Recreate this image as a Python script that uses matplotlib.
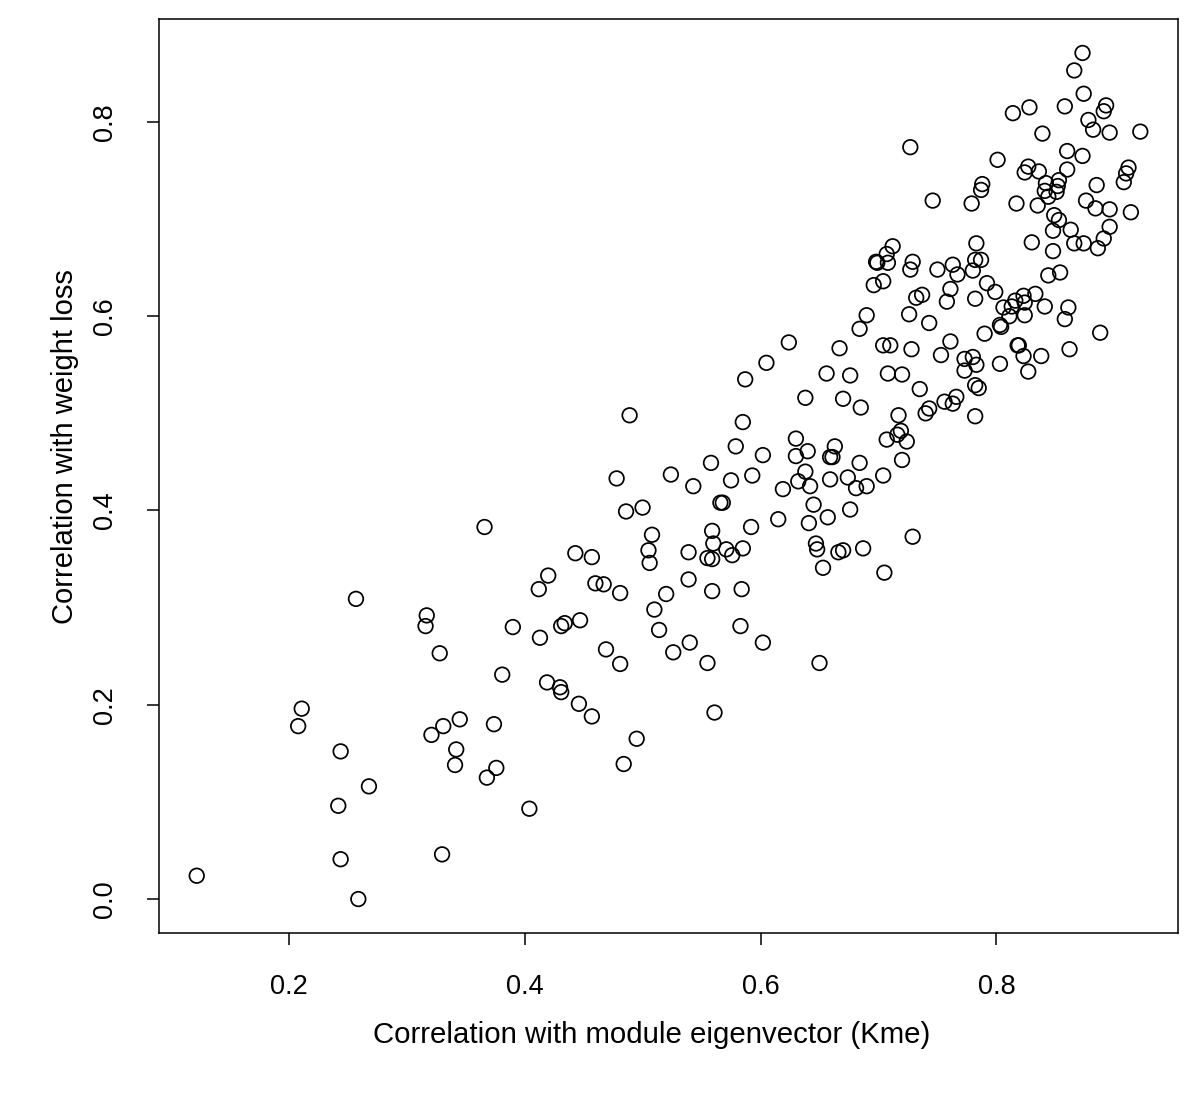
import numpy as np
import matplotlib
matplotlib.use('Agg')
import matplotlib.pyplot as plt

plt.rcParams['font.family'] = ['Liberation Sans', 'DejaVu Sans']

# correlation with module eigenvector (Kme)
kme = [0.122, 0.211, 0.208, 0.257, 0.244, 0.268, 0.242, 0.244, 0.259,
       0.366, 0.443, 0.457, 0.420, 0.412, 0.460, 0.317, 0.316, 0.390, 0.413,
       0.434, 0.431, 0.447, 0.328, 0.381, 0.419, 0.430, 0.431, 0.446, 0.457,
       0.345, 0.331, 0.321, 0.374, 0.342, 0.341, 0.376, 0.368, 0.404, 0.330,
       0.587, 0.489, 0.585, 0.579, 0.558, 0.478, 0.524, 0.543, 0.575, 0.593,
       0.566, 0.568, 0.486, 0.500, 0.592, 0.508, 0.559, 0.505, 0.560, 0.539,
       0.506, 0.555, 0.559, 0.571, 0.576, 0.585, 0.467, 0.481, 0.520, 0.539,
       0.559, 0.584, 0.510, 0.514, 0.583, 0.469, 0.481, 0.526, 0.540, 0.555,
       0.561, 0.495, 0.484,
       0.735, 0.638, 0.670, 0.685, 0.756, 0.763, 0.766, 0.743, 0.740, 0.717,
       0.719, 0.716, 0.707, 0.724, 0.720, 0.630, 0.640, 0.630, 0.663, 0.659,
       0.661, 0.602, 0.684, 0.638, 0.632, 0.642, 0.659, 0.674, 0.681, 0.690,
       0.704, 0.619, 0.645, 0.676, 0.657, 0.615, 0.641, 0.729, 0.647, 0.648,
       0.666, 0.670, 0.687, 0.653, 0.705, 0.602, 0.650, 0.782, 0.785, 0.782,
       0.746, 0.712, 0.707, 0.698, 0.699, 0.708, 0.729, 0.727, 0.750, 0.763,
       0.767, 0.696, 0.704, 0.761, 0.758, 0.737, 0.732, 0.726, 0.743, 0.690,
       0.684, 0.624, 0.667, 0.704, 0.710, 0.728, 0.761, 0.753, 0.605, 0.656,
       0.676, 0.708, 0.720,
       0.727,
       0.873, 0.866, 0.874, 0.814, 0.828, 0.858, 0.893, 0.891, 0.878, 0.882,
       0.896, 0.922, 0.839, 0.860, 0.873, 0.801, 0.827, 0.824, 0.836, 0.860,
       0.912, 0.910, 0.908, 0.788, 0.787, 0.842, 0.841, 0.844, 0.853, 0.852,
       0.851, 0.885,
       0.779, 0.817, 0.835, 0.876, 0.884, 0.896, 0.914, 0.849, 0.853, 0.848,
       0.863, 0.896, 0.891, 0.866, 0.874, 0.886, 0.830, 0.848, 0.783, 0.782,
       0.787, 0.780, 0.844, 0.854, 0.792, 0.799, 0.782, 0.823, 0.833, 0.816,
       0.824, 0.813, 0.806, 0.811, 0.824, 0.841, 0.861, 0.858, 0.803, 0.804,
       0.790, 0.888, 0.818, 0.819, 0.823, 0.838, 0.862, 0.773, 0.780, 0.783,
       0.773, 0.803, 0.827]

# correlation with weight loss
weight_loss = [0.024, 0.196, 0.178, 0.309, 0.152, 0.116, 0.096, 0.041, 0.000,
       0.383, 0.356, 0.352, 0.333, 0.319, 0.325, 0.292, 0.281, 0.280, 0.269,
       0.284, 0.281, 0.287, 0.253, 0.231, 0.223, 0.218, 0.213, 0.201, 0.188,
       0.185, 0.178, 0.169, 0.180, 0.154, 0.138, 0.135, 0.125, 0.093, 0.046,
       0.535, 0.498, 0.491, 0.466, 0.449, 0.433, 0.437, 0.425, 0.431, 0.436,
       0.408, 0.408, 0.399, 0.403, 0.383, 0.375, 0.379, 0.359, 0.366, 0.357,
       0.346, 0.351, 0.350, 0.360, 0.354, 0.361, 0.324, 0.315, 0.314, 0.329,
       0.317, 0.319, 0.298, 0.277, 0.281, 0.257, 0.242, 0.254, 0.264, 0.243,
       0.192, 0.165, 0.139,
       0.525, 0.516, 0.515, 0.506, 0.512, 0.510, 0.517, 0.505, 0.500, 0.498,
       0.482, 0.478, 0.473, 0.471, 0.452, 0.474, 0.461, 0.456, 0.466, 0.455,
       0.455, 0.457, 0.449, 0.440, 0.430, 0.425, 0.432, 0.434, 0.423, 0.425,
       0.436, 0.422, 0.406, 0.401, 0.393, 0.391, 0.387, 0.373, 0.366, 0.360,
       0.357, 0.359, 0.361, 0.341, 0.336, 0.264, 0.243, 0.529, 0.526, 0.497,
       0.719, 0.672, 0.664, 0.656, 0.655, 0.655, 0.656, 0.648, 0.648, 0.653,
       0.643, 0.632, 0.636, 0.628, 0.615, 0.622, 0.619, 0.602, 0.593, 0.601,
       0.587, 0.573, 0.567, 0.570, 0.570, 0.566, 0.574, 0.560, 0.552, 0.541,
       0.539, 0.541, 0.540,
       0.774,
       0.871, 0.853, 0.829, 0.809, 0.815, 0.816, 0.817, 0.811, 0.802, 0.792,
       0.789, 0.790, 0.788, 0.770, 0.765, 0.761, 0.754, 0.748, 0.749, 0.751,
       0.753, 0.747, 0.738, 0.736, 0.730, 0.737, 0.729, 0.723, 0.740, 0.734,
       0.728, 0.735,
       0.716, 0.716, 0.714, 0.719, 0.711, 0.710, 0.707, 0.704, 0.699, 0.688,
       0.689, 0.692, 0.680, 0.675, 0.675, 0.670, 0.676, 0.667, 0.675, 0.658,
       0.658, 0.647, 0.642, 0.645, 0.634, 0.625, 0.618, 0.621, 0.623, 0.616,
       0.614, 0.610, 0.609, 0.600, 0.601, 0.610, 0.609, 0.597, 0.591, 0.589,
       0.582, 0.583, 0.570, 0.570, 0.559, 0.559, 0.566, 0.556, 0.558, 0.550,
       0.544, 0.551, 0.543]

x_ticks = [0.2, 0.4, 0.6, 0.8]
y_ticks = [0.0, 0.2, 0.4, 0.6, 0.8]

fig = plt.figure(figsize=(12, 11.08), dpi=100)
ax = fig.add_axes([0.1325, 0.1579, 0.8492, 0.825])

ax.scatter(kme, weight_loss, s=110, facecolors='none', edgecolors='black', linewidths=1.25)

ax.set_xlim(0.090, 0.954)
ax.set_ylim(-0.035, 0.906)
ax.set_xticks(x_ticks)
ax.set_yticks(y_ticks)
ax.set_xticklabels(['%.1f' % v for v in x_ticks])
ax.set_yticklabels(['%.1f' % v for v in y_ticks], rotation=90, va='center')

for sp in ax.spines.values():
    sp.set_linewidth(1.1)
ax.tick_params(direction='out', length=8.5, width=1.1, labelsize=19.5, pad=21)

ax.set_xlabel('Correlation with module eigenvector (Kme)', fontsize=21.2, labelpad=15, x=0.483)
ax.set_ylabel('Correlation with weight loss', fontsize=21, labelpad=9.5, y=0.532)

plt.savefig('out.png', dpi=100)
